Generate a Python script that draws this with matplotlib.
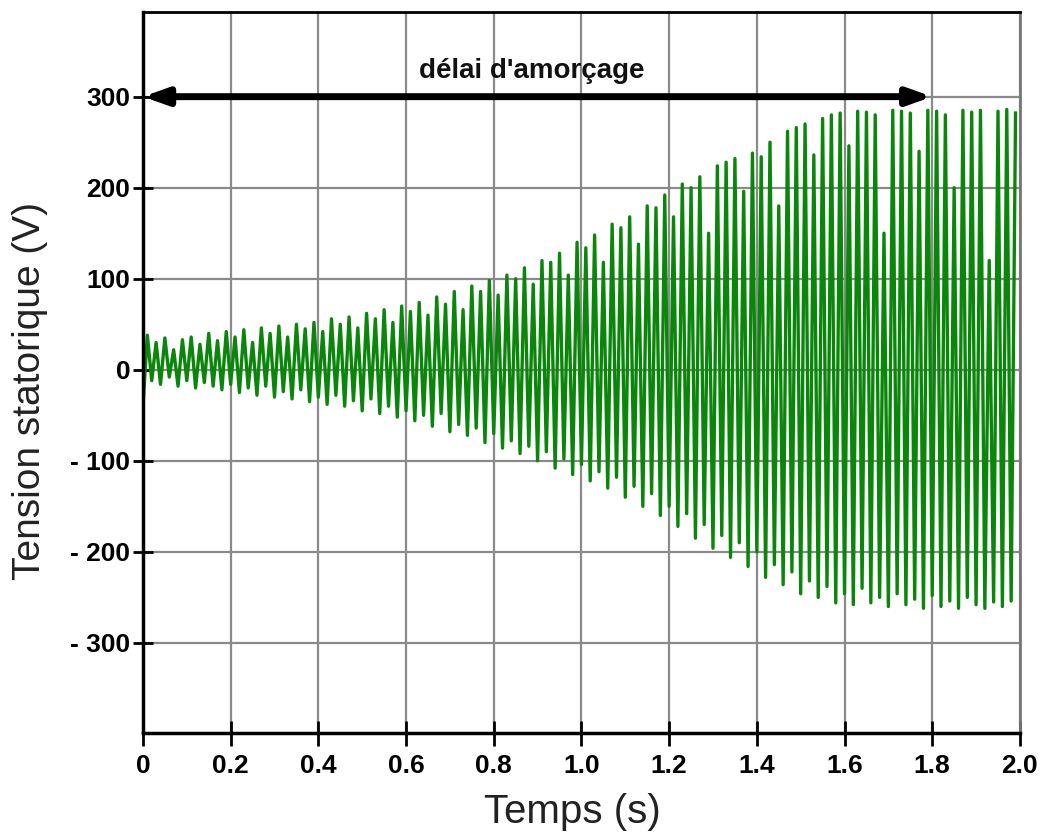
# plot.py
# Stator voltage build-up of a self-excited generator (waveform + delay arrow)

import numpy as np
import matplotlib.pyplot as plt

plt.rcParams["font.family"] = ["Liberation Sans", "DejaVu Sans"]

# peak / trough values per 50 Hz cycle (V)
upper_peaks = [
    38, 30, 35, 22, 33, 36, 28, 40, 32, 42,
    36, 44, 30, 46, 40, 48, 36, 50, 45, 52,
    42, 56, 50, 58, 46, 62, 56, 66, 52, 70,
    64, 74, 60, 80, 72, 86, 66, 92, 86, 98,
    82, 104, 100, 112, 94, 120, 118, 128, 104, 140,
    134, 148, 118, 160, 156, 168, 138, 180, 178, 192,
    168, 204, 200, 212, 150, 224, 228, 232, 196, 238,
    234, 250, 180, 262, 266, 270, 236, 276, 280, 282,
    246, 284, 283, 280, 150, 285, 284, 282, 240, 285,
    284, 280, 200, 285, 283, 285, 120, 284, 286, 282,
]
lower_peaks = [
    -40, -12, -16, -8, -18, -12, -20, -14, -18, -22,
    -16, -25, -20, -28, -18, -30, -24, -32, -22, -35,
    -30, -38, -28, -40, -34, -45, -32, -48, -40, -52,
    -45, -56, -50, -62, -48, -68, -60, -72, -64, -80,
    -70, -86, -78, -92, -84, -100, -90, -108, -98, -115,
    -104, -122, -112, -130, -118, -140, -128, -150, -136, -160,
    -150, -172, -158, -185, -170, -196, -182, -206, -190, -216,
    -200, -228, -214, -236, -222, -246, -232, -250, -238, -256,
    -246, -258, -240, -256, -250, -260, -246, -258, -252, -262,
    -248, -260, -254, -262, -250, -258, -262, -255, -260, -254,
]
period = 0.02  # s

x_ticks = [0, 0.2, 0.4, 0.6, 0.8, 1.0, 1.2, 1.4, 1.6, 1.8, 2.0]
x_ticklabels = ["0", "0.2", "0.4", "0.6", "0.8", "1.0", "1.2", "1.4", "1.6", "1.8", "2.0"]
y_ticks = [-300, -200, -100, 0, 100, 200, 300]
y_ticklabels = ["- 300", "- 200", "- 100", "0", "100", "200", "300"]

delay_end = 1.8
delay_level = 300

# build the zigzag: trough then peak each cycle
n = len(upper_peaks)
t_low = np.arange(n) * period
t_up = t_low + period / 2
t = np.empty(2 * n)
v = np.empty(2 * n)
t[0::2], t[1::2] = t_low, t_up
v[0::2], v[1::2] = lower_peaks, upper_peaks

fig = plt.figure(figsize=(10.45, 8.39), dpi=100)
ax = fig.add_axes([0.1368, 0.1263, 0.976 - 0.1368, 0.9857 - 0.1263])

for xt in x_ticks:
    ax.axvline(xt, color="#8a8a8a", lw=1.6, zorder=1)
for yt in y_ticks:
    ax.axhline(yt, color="#8a8a8a", lw=1.6, zorder=1)

ax.plot(t, v, color="#0a870a", lw=2.4, zorder=2)

ax.annotate("", xy=(delay_end, delay_level), xytext=(0, delay_level),
            arrowprops=dict(arrowstyle="<|-|>,head_length=1.4,head_width=0.5",
                            color="black", lw=5, shrinkA=0, shrinkB=0),
            zorder=4)
ax.text(0.887, 320, "délai d'amorçage", ha="center", va="baseline",
        fontsize=20, fontweight="bold", color="#111111", zorder=5)

ax.set_xlim(0, 2.0)
ax.set_ylim(-399, 393)
ax.set_xticks(x_ticks)
ax.set_xticklabels(x_ticklabels, fontsize=19, fontweight="bold")
ax.set_yticks(y_ticks)
ax.set_yticklabels(y_ticklabels, fontsize=19, fontweight="bold")
ax.tick_params(axis="x", direction="inout", length=18, width=2, pad=6)
ax.tick_params(axis="y", direction="inout", length=14, width=2, pad=2)

ax.spines["left"].set_linewidth(2.5)
ax.spines["bottom"].set_linewidth(2.5)
ax.spines["top"].set_linewidth(2)
ax.spines["right"].set_linewidth(2)
ax.spines["right"].set_color("#777777")
for s in ax.spines.values():
    s.set_zorder(6)

ax.set_xlabel("Temps (s)", fontsize=29, color="#222222")
ax.set_ylabel("Tension statorique (V)", fontsize=28, color="#222222")
ax.xaxis.set_label_coords(0.49, -0.083)
ax.yaxis.set_label_coords(-0.108, 0.474)

fig.savefig("out.png")
